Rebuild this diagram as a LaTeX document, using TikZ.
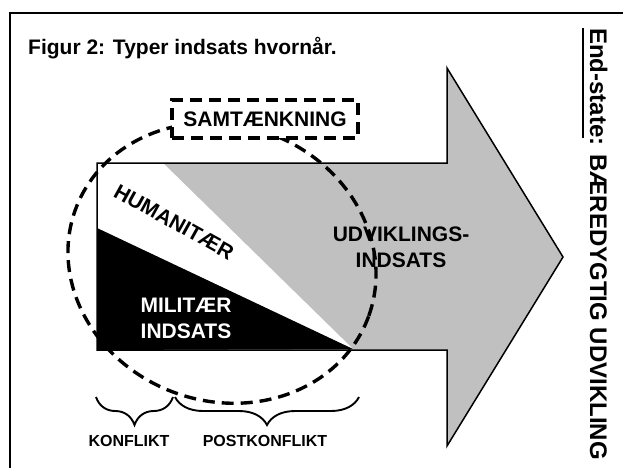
\documentclass[tikz,border=0pt]{standalone}
\usepackage{fontspec}
\setmainfont{Liberation Sans}
\usetikzlibrary{decorations.pathreplacing}
\definecolor{silvergray}{RGB}{192,192,192}
\newcommand\myul[1]{\setbox0\hbox{#1}\rlap{\rule[-8pt]{\wd0}{2pt}}\box0}
\begin{document}
\begin{tikzpicture}[x=1pt,y=-1pt,
  lbl/.style={font=\bfseries\fontsize{21}{26}\selectfont, align=center, inner sep=0pt},
  smalllbl/.style={font=\bfseries\fontsize{16}{19}\selectfont, inner sep=0pt},
  dsh/.style={line width=3.4pt, dash pattern=on 12pt off 7pt},
  bracestyle/.style={line width=1.9pt, decorate, decoration={brace, amplitude=28pt, mirror}}]
\useasboundingbox (0,0) rectangle (623,467);
\fill[white] (0,0) rectangle (623,467);
% frame
\draw[line width=2pt] (10,490) -- (10,13) -- (650,13);
% arrow corner points
\coordinate (p1) at (97,163);
\coordinate (p2) at (447,163);
\coordinate (p3) at (447,68);
\coordinate (p4) at (563,257);
\coordinate (p5) at (447,446);
\coordinate (p6) at (447,350);
\coordinate (p7) at (97,350);
\coordinate (w1) at (163,163);
\coordinate (w2) at (353,349);
\coordinate (w3) at (97,228);
\fill[silvergray] (p1) -- (p2) -- (p3) -- (p4) -- (p5) -- (p6) -- (p7) -- cycle;
\fill[white] (p1) -- (w1) -- (w2) -- (w3) -- cycle;
\fill[black] (w3) -- (w2) -- (p7) -- cycle;
\draw[line width=1.5pt, line join=miter] (p1) -- (p2) -- (p3) -- (p4) -- (p5) -- (p6) -- (p7) -- cycle;
% dashed oval
\draw[dsh, shift={(222,263)}, rotate=-20] (0,0) ellipse [x radius=156, y radius=138];
% samtaenkning box
\node[draw, dsh, fill=white, minimum width=186pt, minimum height=38pt, lbl] (samt) at (265,119) {SAMTÆNKNING};
% labels
\node[lbl, rotate=-29] (hum) at (174,222) {HUMANITÆR};
\node[lbl, text=white] (mil) at (186,318) {MILITÆR\\INDSATS};
\node[lbl] (udv) at (401,247) {UDVIKLINGS-\\INDSATS};
\node[lbl, anchor=base west] (title) at (28,54) {Figur 2: Typer indsats hvornår.};
\node[font=\bfseries\fontsize{24}{28}\selectfont, inner sep=0pt, rotate=-90, anchor=base west] (end) at (590,28) {\myul{End-state}: BÆREDYGTIG UDVIKLING};
% braces
\coordinate (b1) at (96,397);
\coordinate (b2) at (173,397);
\coordinate (b3) at (175,397);
\coordinate (b4) at (359,397);
\draw[bracestyle] (b1) -- (b2);
\draw[bracestyle] (b3) -- (b4);
\node[smalllbl] (konf) at (129,441) {KONFLIKT};
\node[smalllbl] (post) at (265,441) {POSTKONFLIKT};
\end{tikzpicture}
\end{document}
